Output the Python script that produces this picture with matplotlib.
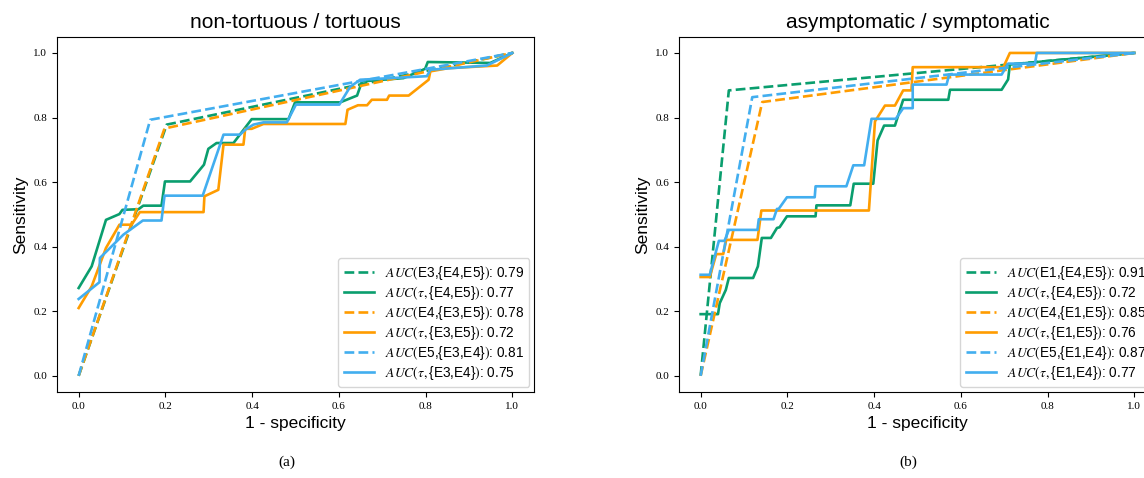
import matplotlib
matplotlib.use("Agg")
import matplotlib.pyplot as plt

plt.rcParams["mathtext.fontset"] = "stix"

GREEN = "#0a9e6e"
ORANGE = "#ff9c00"
BLUE = "#42aeef"
SANS = "Liberation Sans"
SERIF = "Liberation Serif"

# ─── (a) non-tortuous / tortuous ────────────────────────────────────────
a_e3_fpr = [0, 0.203, 1]
a_e3_tpr = [0, 0.778, 1]
a_e4_fpr = [0, 0.198, 1]
a_e4_tpr = [0, 0.766, 1]
a_e5_fpr = [0, 0.165, 1]
a_e5_tpr = [0, 0.793, 1]

a_t45_fpr = [0, 0.030, 0.063, 0.094, 0.101, 0.138, 0.149, 0.191, 0.199, 0.257, 0.289, 0.299, 0.318,
             0.357, 0.399, 0.484, 0.499, 0.603, 0.642, 0.649, 0.653, 0.749, 0.799, 0.805, 0.949, 1.0]
a_t45_tpr = [0.272, 0.339, 0.483, 0.501, 0.514, 0.516, 0.527, 0.527, 0.602, 0.602, 0.654, 0.703, 0.721,
             0.721, 0.795, 0.795, 0.847, 0.847, 0.868, 0.895, 0.912, 0.922, 0.951, 0.972, 0.969, 1.0]

a_t35_fpr = [0, 0.030, 0.063, 0.094, 0.122, 0.141, 0.288, 0.290, 0.322, 0.334, 0.380, 0.384, 0.399, 0.426,
             0.615, 0.620, 0.644, 0.665, 0.676, 0.711, 0.716, 0.761, 0.807, 0.811, 0.853, 0.965, 1.0]
a_t35_tpr = [0.21, 0.277, 0.396, 0.468, 0.468, 0.507, 0.507, 0.556, 0.576, 0.716, 0.716, 0.765, 0.765, 0.780,
             0.780, 0.824, 0.838, 0.838, 0.855, 0.855, 0.868, 0.868, 0.917, 0.943, 0.953, 0.961, 1.0]

a_t34_fpr = [0, 0.048, 0.049, 0.103, 0.148, 0.191, 0.198, 0.286, 0.334, 0.372, 0.384, 0.403, 0.426,
             0.480, 0.501, 0.601, 0.626, 0.649, 0.803, 0.811, 0.941, 1.0]
a_t34_tpr = [0.238, 0.290, 0.365, 0.437, 0.481, 0.481, 0.558, 0.558, 0.747, 0.747, 0.762, 0.778, 0.785,
             0.785, 0.840, 0.840, 0.895, 0.917, 0.928, 0.948, 0.961, 1.0]

a_labels = [
    r"$AUC($E3,{E4,E5}$)$: 0.79",
    r"$AUC(\tau,$" + "{E4,E5}" + r"$)$: 0.77",
    r"$AUC($E4,{E3,E5}$)$: 0.78",
    r"$AUC(\tau,$" + "{E3,E5}" + r"$)$: 0.72",
    r"$AUC($E5,{E3,E4}$)$: 0.81",
    r"$AUC(\tau,$" + "{E3,E4}" + r"$)$: 0.75",
]

# ─── (b) asymptomatic / symptomatic ─────────────────────────────────────
b_e1_fpr = [0, 0.065, 1]
b_e1_tpr = [0, 0.884, 1]
b_e4_fpr = [0, 0.142, 1]
b_e4_tpr = [0, 0.848, 1]
b_e5_fpr = [0, 0.119, 1]
b_e5_tpr = [0, 0.863, 1]

b_t45_fpr = [0, 0.040, 0.044, 0.058, 0.065, 0.121, 0.132, 0.141, 0.162, 0.176, 0.182, 0.199, 0.265, 0.267,
             0.345, 0.353, 0.398, 0.408, 0.423, 0.448, 0.467, 0.571, 0.575, 0.694, 0.709, 0.713, 1.0]
b_t45_tpr = [0.191, 0.191, 0.225, 0.266, 0.303, 0.303, 0.339, 0.427, 0.427, 0.458, 0.46, 0.494, 0.494, 0.528,
             0.528, 0.595, 0.595, 0.729, 0.775, 0.775, 0.855, 0.855, 0.886, 0.886, 0.918, 0.964, 1.0]

b_t15_fpr = [0, 0.021, 0.036, 0.052, 0.059, 0.131, 0.140, 0.388, 0.402, 0.425, 0.448, 0.467, 0.486,
             0.489, 0.698, 0.713, 1.0]
b_t15_tpr = [0.306, 0.306, 0.377, 0.377, 0.421, 0.421, 0.512, 0.512, 0.788, 0.837, 0.837, 0.884, 0.884,
             0.956, 0.956, 1.0, 1.0]

b_t14_fpr = [0, 0.021, 0.042, 0.055, 0.065, 0.131, 0.134, 0.168, 0.176, 0.180, 0.199, 0.263, 0.265, 0.336,
             0.352, 0.377, 0.394, 0.450, 0.467, 0.489, 0.489, 0.567, 0.573, 0.694, 0.709, 0.771, 0.775, 1.0]
b_t14_tpr = [0.313, 0.313, 0.418, 0.418, 0.452, 0.452, 0.485, 0.485, 0.517, 0.517, 0.553, 0.553, 0.587, 0.587,
             0.652, 0.652, 0.796, 0.796, 0.829, 0.829, 0.902, 0.902, 0.933, 0.933, 0.967, 0.967, 1.0, 1.0]

b_labels = [
    r"$AUC($E1,{E4,E5}$)$: 0.91",
    r"$AUC(\tau,$" + "{E4,E5}" + r"$)$: 0.72",
    r"$AUC($E4,{E1,E5}$)$: 0.85",
    r"$AUC(\tau,$" + "{E1,E5}" + r"$)$: 0.76",
    r"$AUC($E5,{E1,E4}$)$: 0.87",
    r"$AUC(\tau,$" + "{E1,E4}" + r"$)$: 0.77",
]


def draw_panel(ax, curves, labels, title):
    colors = [GREEN, GREEN, ORANGE, ORANGE, BLUE, BLUE]
    styles = ["--", "-", "--", "-", "--", "-"]
    for (x, y), c, ls, lab in zip(curves, colors, styles, labels):
        ax.plot(x, y, ls, color=c, lw=1.9, label=lab)
    ax.set_title(title, fontsize=15, family=SANS)
    ax.set_xlabel("1 - specificity", fontsize=12.5, family=SANS)
    ax.set_ylabel("Sensitivity", fontsize=12.5, family=SANS)
    ax.set_xticks([0, 0.2, 0.4, 0.6, 0.8, 1.0])
    ax.set_yticks([0, 0.2, 0.4, 0.6, 0.8, 1.0])
    ax.tick_params(labelsize=8)
    for lab in ax.get_xticklabels() + ax.get_yticklabels():
        lab.set_family(SERIF)
    ax.legend(loc="lower right", prop={"family": SANS, "size": 9.8},
              labelspacing=0.15, handlelength=2.2, borderaxespad=0.35)


fig = plt.figure(figsize=(11.44, 4.78), dpi=100)
ax1 = fig.add_axes([0.0498, 0.180, 0.417, 0.743])
ax2 = fig.add_axes([0.5935, 0.180, 0.417, 0.743])

draw_panel(ax1, [(a_e3_fpr, a_e3_tpr), (a_t45_fpr, a_t45_tpr), (a_e4_fpr, a_e4_tpr),
                 (a_t35_fpr, a_t35_tpr), (a_e5_fpr, a_e5_tpr), (a_t34_fpr, a_t34_tpr)],
           a_labels, "non-tortuous / tortuous")
draw_panel(ax2, [(b_e1_fpr, b_e1_tpr), (b_t45_fpr, b_t45_tpr), (b_e4_fpr, b_e4_tpr),
                 (b_t15_fpr, b_t15_tpr), (b_e5_fpr, b_e5_tpr), (b_t14_fpr, b_t14_tpr)],
           b_labels, "asymptomatic / symptomatic")

fig.text(0.251, 0.033, "(a)", ha="center", va="center", fontsize=11, family=SERIF)
fig.text(0.794, 0.033, "(b)", ha="center", va="center", fontsize=11, family=SERIF)

fig.savefig("out.png", dpi=100)
